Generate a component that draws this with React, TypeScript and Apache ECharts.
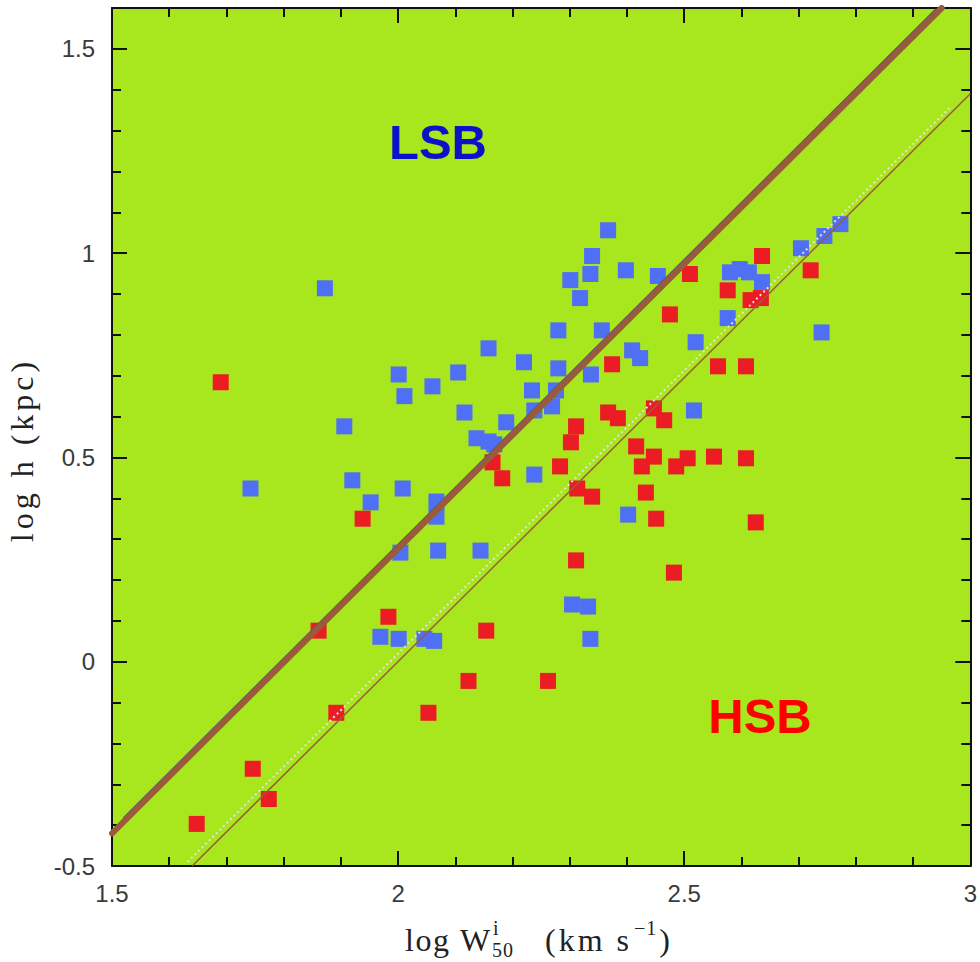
import React, { useEffect, useRef } from "react";
import * as echarts from "echarts";

// log W50 (x) vs log h (y) for low and high surface brightness galaxies
const lsbPoints: [number, number][] = [
  [1.872, 0.914], [1.742, 0.424], [1.906, 0.576], [1.92, 0.444], [1.952, 0.39],
  [1.969, 0.061], [2.001, 0.703], [2.011, 0.65], [2.008, 0.424], [2.004, 0.267],
  [2.001, 0.056], [2.06, 0.674], [2.067, 0.392], [2.067, 0.355], [2.07, 0.272],
  [2.046, 0.056], [2.063, 0.051], [2.105, 0.708], [2.116, 0.61], [2.137, 0.547],
  [2.158, 0.767], [2.158, 0.539], [2.168, 0.532], [2.144, 0.272], [2.189, 0.586],
  [2.22, 0.733], [2.234, 0.664], [2.238, 0.615], [2.238, 0.458], [2.269, 0.625],
  [2.276, 0.664], [2.28, 0.718], [2.28, 0.811], [2.301, 0.934], [2.318, 0.89],
  [2.336, 0.949], [2.339, 0.993], [2.367, 1.056], [2.356, 0.811], [2.337, 0.703],
  [2.398, 0.958], [2.409, 0.762], [2.423, 0.743], [2.402, 0.36], [2.304, 0.14],
  [2.332, 0.135], [2.336, 0.056], [2.454, 0.944], [2.52, 0.782], [2.517, 0.615],
  [2.576, 0.841], [2.58, 0.953], [2.597, 0.961], [2.613, 0.953], [2.636, 0.929],
  [2.704, 1.012], [2.745, 1.042], [2.773, 1.071], [2.74, 0.806],
];

const hsbPoints: [number, number][] = [
  [1.69, 0.684], [1.648, -0.397], [1.746, -0.262], [1.774, -0.336], [1.861, 0.076],
  [1.892, -0.125], [1.938, 0.35], [1.983, 0.11], [2.053, -0.125], [2.123, -0.047],
  [2.154, 0.076], [2.165, 0.488], [2.182, 0.449], [2.262, -0.047], [2.283, 0.478],
  [2.302, 0.537], [2.311, 0.576], [2.313, 0.424], [2.311, 0.248], [2.339, 0.404],
  [2.374, 0.728], [2.367, 0.61], [2.384, 0.596], [2.416, 0.527], [2.426, 0.478],
  [2.433, 0.414], [2.447, 0.62], [2.447, 0.502], [2.451, 0.35], [2.465, 0.591],
  [2.475, 0.85], [2.482, 0.218], [2.486, 0.478], [2.506, 0.498], [2.51, 0.949],
  [2.552, 0.502], [2.559, 0.723], [2.576, 0.909], [2.608, 0.498], [2.608, 0.723],
  [2.616, 0.885], [2.634, 0.89], [2.636, 0.993], [2.625, 0.341], [2.721, 0.958],
];

// Two parallel scaling relations
const upperRelation: [number, number][] = [[1.5, -0.42], [2.95, 1.6]];
const upperShadow: [number, number][] = [[1.52, -0.383], [2.94, 1.597]];
const lowerRelation: [number, number][] = [[1.64, -0.5], [3.0, 1.39]];
const lowerDots: [number, number][] = [[1.632, -0.49], [2.967, 1.36]];

const xTicks = [1.5, 2, 2.5, 3];
const yTicks = [-0.5, 0, 0.5, 1, 1.5];

const GREEN = "#a8e61e";
const BLUE = "#4f6ff4";
const RED = "#ec1c24";
const BROWN = "#9a5b3c";
const INK = "#222";
const LABEL_FONT = "Liberation Sans, Arial, sans-serif";
const TITLE_FONT = "Liberation Serif, Times New Roman, serif";

const isTick = (list: number[], v: number) =>
  list.some((t) => Math.abs(t - v) < 1e-6);

// Lay out a string one glyph at a time with extra tracking between glyphs.
let measureCtx: CanvasRenderingContext2D | null = null;
function spacedText(str: string, size: number, tracking: number, x0: number, y0: number) {
  if (!measureCtx) measureCtx = document.createElement("canvas").getContext("2d");
  const font = `${size}px ${TITLE_FONT}`;
  if (measureCtx) measureCtx.font = font;
  const out: any[] = [];
  let x = x0;
  for (const ch of str) {
    const w = measureCtx ? measureCtx.measureText(ch).width : size * 0.5;
    if (ch !== " ") {
      out.push({
        type: "text",
        x,
        y: y0,
        style: { text: ch, fill: INK, font, verticalAlign: "middle" },
      });
    }
    x += w + tracking;
  }
  return { items: out, end: x - tracking };
}

function axisStyle(showLabel: boolean, ticks: number[], isY: boolean) {
  return {
    axisLine: { show: true, onZero: false, lineStyle: { color: "#111", width: 2 } },
    axisTick: { show: true, inside: true, length: 15, lineStyle: { color: "#111", width: 2 } },
    minorTick: { show: true, splitNumber: 5, length: 9, lineStyle: { color: "#111", width: 2 } },
    splitLine: { show: false },
    minorSplitLine: { show: false },
    axisLabel: {
      show: showLabel,
      fontFamily: LABEL_FONT,
      fontSize: 24,
      color: "#3a3a3a",
      margin: isY ? 17 : 15,
      padding: isY ? [10, 0, 0, 0] : 0,
      formatter: (v: number) => (isTick(ticks, v) ? String(v) : ""),
    },
  };
}

export default function App() {
  const ref = useRef<HTMLDivElement>(null);

  useEffect(() => {
    if (!ref.current) return;
    const chart = echarts.init(ref.current, undefined, { renderer: "svg" });

    const xBase = { type: "value" as const, min: 1.5, max: 3, interval: 0.5 };
    const yBase = { type: "value" as const, min: -0.5, max: 1.6, interval: 0.5 };

    // x title: log W^i_50 (km s^-1)
    const logW = spacedText("log W", 32, 1.5, 0, 0);
    const supI = spacedText("i", 20, 0, logW.end + 3, -12);
    const sub50 = spacedText("50", 20, 1, logW.end + 2, 10);
    const kms = spacedText("(km s", 32, 3, 140, 0);
    const supM1 = spacedText("\u22121", 20, 1, kms.end + 5, -12);
    const close = spacedText(")", 32, 0, supM1.end + 3, 0);

    // y title: log h (kpc), drawn along a rotated baseline
    const yTitle = spacedText("log h (kpc)", 32, 4, 0, 0);

    chart.setOption({
      animation: false,
      backgroundColor: "#ffffff",
      grid: {
        left: 112,
        right: 7,
        top: 8,
        bottom: 96,
        show: true,
        backgroundColor: GREEN,
        borderWidth: 0,
      },
      xAxis: [
        { ...xBase, position: "bottom", ...axisStyle(true, xTicks, false) },
        { ...xBase, position: "top", ...axisStyle(false, xTicks, false) },
      ],
      yAxis: [
        { ...yBase, position: "left", ...axisStyle(true, yTicks, true) },
        { ...yBase, position: "right", ...axisStyle(false, yTicks, true) },
      ],
      series: [
        {
          name: "LSB",
          type: "scatter",
          data: lsbPoints,
          symbol: "rect",
          symbolSize: 16,
          itemStyle: { color: BLUE, opacity: 1 },
          z: 2,
        },
        {
          name: "HSB",
          type: "scatter",
          data: hsbPoints,
          symbol: "rect",
          symbolSize: 16,
          itemStyle: { color: RED, opacity: 1 },
          z: 3,
        },
        {
          type: "line",
          data: upperShadow,
          symbol: "none",
          silent: true,
          lineStyle: { color: "#5e5e5e", width: 2 },
          z: 4,
        },
        {
          type: "line",
          data: upperRelation,
          symbol: "none",
          silent: true,
          lineStyle: { color: BROWN, width: 6, cap: "round" },
          z: 5,
        },
        {
          type: "line",
          data: lowerDots,
          symbol: "none",
          silent: true,
          lineStyle: { color: "#e2e2e2", width: 2, type: [2, 3] },
          z: 4,
        },
        {
          type: "line",
          data: lowerRelation,
          symbol: "none",
          silent: true,
          lineStyle: { color: BROWN, width: 1.5 },
          z: 5,
        },
      ],
      graphic: [
        {
          type: "text",
          x: 438,
          y: 142,
          z: 10,
          style: {
            text: "LSB",
            fill: "#0b12c8",
            font: `bold 49px ${LABEL_FONT}`,
            align: "center",
            verticalAlign: "middle",
          },
        },
        {
          type: "text",
          x: 760,
          y: 716,
          z: 10,
          style: {
            text: "HSB",
            fill: "#ff0000",
            font: `bold 49px ${LABEL_FONT}`,
            align: "center",
            verticalAlign: "middle",
          },
        },
        {
          type: "group",
          x: 22,
          y: 452 + yTitle.end / 2,
          rotation: Math.PI / 2,
          children: yTitle.items,
        },
        {
          type: "group",
          x: 405,
          y: 940,
          children: [
            ...logW.items,
            ...supI.items,
            ...sub50.items,
            ...kms.items,
            ...supM1.items,
            ...close.items,
          ],
        },
      ],
    });

    return () => chart.dispose();
  }, []);

  return (
    <div
      ref={ref}
      style={{ position: "absolute", left: 0, top: 0, width: 980, height: 962 }}
    />
  );
}
